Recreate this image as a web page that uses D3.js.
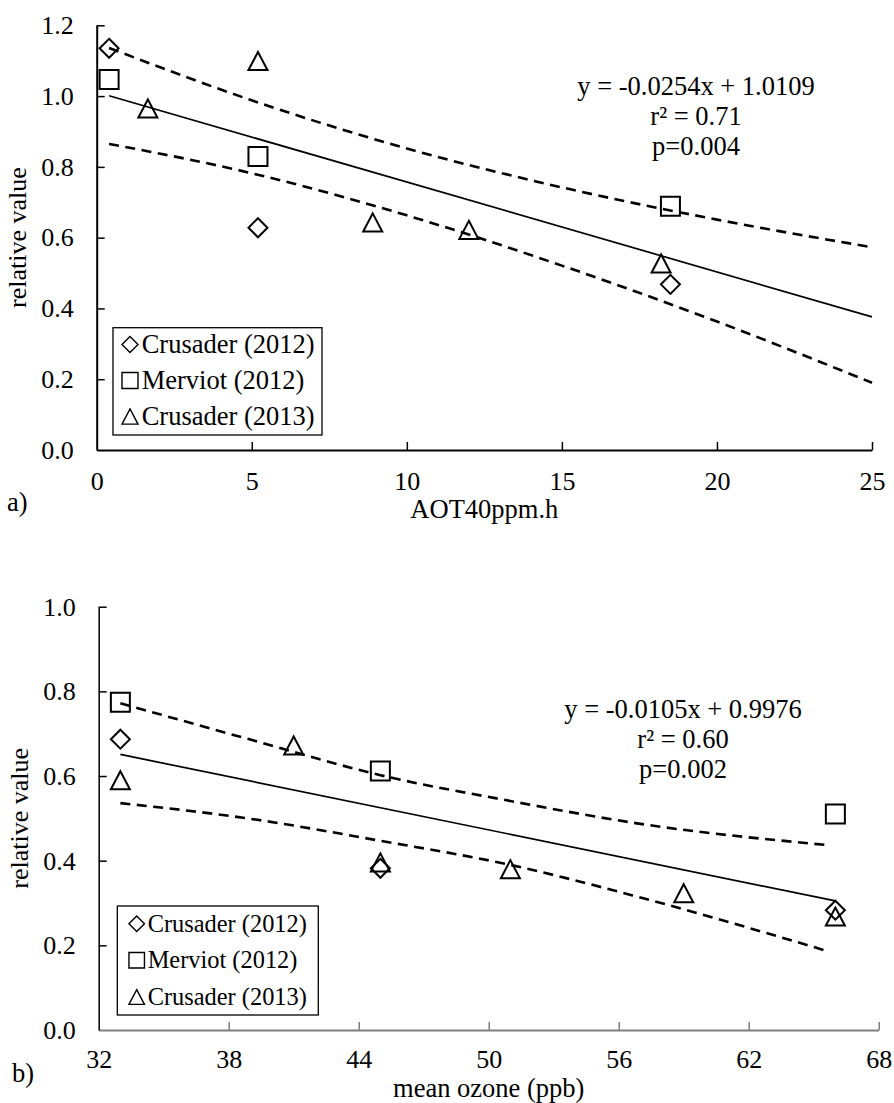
<!DOCTYPE html>
<html>
<head>
<meta charset="utf-8">
<script src="https://cdn.jsdelivr.net/npm/d3@7"></script>
<style>
  body { margin: 0; background: #fff; }
</style>
</head>
<body>
<div id="wrapper"></div>
<script>
// 1. Data

const seriesNames = ["Crusader (2012)", "Merviot (2012)", "Crusader (2013)"]

// panel a) AOT40
const aCrusader2012X = [0.4, 5.2, 18.5]
const aCrusader2012Y = [1.135, 0.628, 0.468]
const aMerviot2012X = [0.4, 5.2, 18.5]
const aMerviot2012Y = [1.047, 0.829, 0.689]
const aCrusader2013X = [1.65, 5.2, 8.9, 12.0, 18.2]
const aCrusader2013Y = [0.965, 1.099, 0.643, 0.622, 0.527]
const aFitX = [0.4, 25]
const aFitY = [1.001, 0.376]
const aBandX = [0.4, 5, 10, 15, 20, 25]
const aBandUpper = [1.136, 0.988, 0.852, 0.742, 0.651, 0.573]
const aBandLower = [0.865, 0.782, 0.663, 0.521, 0.363, 0.19]
const aXTicks = [0, 5, 10, 15, 20, 25]
const aYTicks = [0, 0.2, 0.4, 0.6, 0.8, 1.0, 1.2]
const aStats = ["y = -0.0254x + 1.0109", "r² = 0.71", "p=0.004"]

// panel b) mean ozone
const bCrusader2012X = [33, 45, 66]
const bCrusader2012Y = [0.687, 0.382, 0.283]
const bMerviot2012X = [33, 45, 66]
const bMerviot2012Y = [0.774, 0.612, 0.51]
const bCrusader2013X = [33, 41, 45, 51, 59, 66]
const bCrusader2013Y = [0.59, 0.672, 0.396, 0.38, 0.323, 0.268]
const bFitX = [33, 66]
const bFitY = [0.651, 0.305]
const bBandX = [33, 39, 45, 51, 57, 65.6]
const bBandUpper = [0.772, 0.686, 0.602, 0.541, 0.487, 0.437]
const bBandLower = [0.536, 0.499, 0.447, 0.39, 0.313, 0.187]
const bXTicks = [32, 38, 44, 50, 56, 62, 68]
const bYTicks = [0, 0.2, 0.4, 0.6, 0.8, 1.0]
const bStats = ["y = -0.0105x + 0.9976", "r² = 0.60", "p=0.002"]

// 2. Canvas

const width = 894
const height = 1103
const serif = '"Liberation Serif", "Times New Roman", Times, serif'

const svg = d3.select("#wrapper")
  .append("svg")
    .attr("width", width)
    .attr("height", height)
    .style("font-family", serif)

// marker shapes (open, Excel style)
const diamondType = {
  draw(ctx, size) {
    const r = Math.sqrt(size) / 2
    ctx.moveTo(0, -r); ctx.lineTo(r, 0); ctx.lineTo(0, r); ctx.lineTo(-r, 0); ctx.closePath()
  }
}
const squareType = {
  draw(ctx, size) {
    const r = Math.sqrt(size) / 2
    ctx.rect(-r, -r, 2 * r, 2 * r)
  }
}
const triangleType = {
  draw(ctx, size) {
    const r = Math.sqrt(size) / 2
    ctx.moveTo(0, -r * 0.95); ctx.lineTo(r, r * 0.95); ctx.lineTo(-r, r * 0.95); ctx.closePath()
  }
}
const markerTypes = [diamondType, squareType, triangleType]

function drawPanel(p) {
  const xScale = d3.scaleLinear().domain(p.xDomain).range(p.xRange)
  const yScale = d3.scaleLinear().domain(p.yDomain).range(p.yRange)
  const g = svg.append("g")

  // axes
  const xAxis = g.append("g")
      .attr("transform", `translate(0,${p.yRange[0]})`)
      .call(d3.axisBottom(xScale).tickValues(p.xTicks).tickSizeInner(-8).tickSizeOuter(0).tickFormat(d3.format("d")))
      .attr("font-family", null)
      .attr("font-size", null)
  xAxis.select(".domain").attr("stroke", p.xAxisColor).attr("stroke-width", p.xAxisWidth)
  xAxis.selectAll(".tick line").attr("stroke", p.xAxisColor).attr("stroke-width", 1.5)
  xAxis.selectAll(".tick").filter(d => d === p.xTicks[0]).select("line").remove()
  xAxis.selectAll("text")
      .attr("y", p.xTickBaseline)
      .attr("dy", null)
      .style("font-family", serif)
      .style("font-size", "26px")

  const yAxis = g.append("g")
      .attr("transform", `translate(${p.xRange[0]},0)`)
      .call(d3.axisLeft(yScale).tickValues(p.yTicks).tickSizeInner(-8).tickSizeOuter(0).tickPadding(23).tickFormat(d3.format(".1f")))
      .attr("font-family", null)
      .attr("font-size", null)
  yAxis.select(".domain").attr("stroke", "#000").attr("stroke-width", p.yAxisWidth)
  yAxis.selectAll(".tick line").attr("stroke", "#000").attr("stroke-width", 1.5)
  yAxis.selectAll(".tick").filter(d => d === 0).select("line").remove()
  yAxis.selectAll("text")
      .attr("dy", "0.32em")
      .style("font-family", serif)
      .style("font-size", "26px")

  // axis titles
  g.append("text")
      .attr("transform", `translate(${p.yLabelX},${(p.yRange[0] + p.yRange[1]) / 2}) rotate(-90)`)
      .attr("text-anchor", "middle")
      .style("font-family", serif)
      .style("font-size", "26px")
      .text("relative value")

  g.append("text")
      .attr("x", (p.xRange[0] + p.xRange[1]) / 2)
      .attr("y", p.xLabelY)
      .attr("text-anchor", "middle")
      .style("font-family", serif)
      .style("font-size", "26.5px")
      .text(p.xLabel)

  g.append("text")
      .attr("x", p.panelLabelX)
      .attr("y", p.panelLabelY)
      .style("font-family", serif)
      .style("font-size", "26.5px")
      .text(p.panelLabel)

  // confidence band + fit
  const line = d3.line()
      .x(d => xScale(d[0]))
      .y(d => yScale(d[1]))
      .curve(d3.curveMonotoneX)

  ;[p.bandUpper, p.bandLower].forEach(band => {
    g.append("path")
        .datum(p.bandX.map((x, i) => [x, band[i]]))
        .attr("d", line)
        .attr("fill", "none")
        .attr("stroke", "#000")
        .attr("stroke-width", 2.6)
        .attr("stroke-dasharray", "10,6.5")
  })

  g.append("path")
      .datum(p.fitX.map((x, i) => [x, p.fitY[i]]))
      .attr("d", line)
      .attr("fill", "none")
      .attr("stroke", "#000")
      .attr("stroke-width", 1.7)

  // points
  p.series.forEach((s, si) => {
    g.selectAll(null)
      .data(s.x.map((x, i) => [x, s.y[i]]))
      .enter()
      .append("path")
        .attr("transform", d => `translate(${xScale(d[0])},${yScale(d[1])})`)
        .attr("d", d3.symbol().type(markerTypes[si]).size(19 * 19))
        .attr("fill", "none")
        .attr("stroke", "#000")
        .attr("stroke-width", 2)
  })

  // stats text
  g.append("g")
    .selectAll("text")
    .data(p.stats)
    .enter()
    .append("text")
      .attr("x", p.statsX)
      .attr("y", (d, i) => p.statsY + i * 30)
      .attr("text-anchor", "middle")
      .style("font-family", serif)
      .style("font-size", "26.5px")
      .text(d => d)

  // legend
  const L = p.legend
  g.append("rect")
      .attr("x", L.x0)
      .attr("y", L.y0)
      .attr("width", L.x1 - L.x0)
      .attr("height", L.y1 - L.y0)
      .attr("fill", "#fff")
      .attr("stroke", "#000")
      .attr("stroke-width", 1.3)

  const rows = g.append("g")
    .selectAll("g")
    .data(seriesNames)
    .enter()
    .append("g")
      .attr("transform", (d, i) => `translate(0,${L.baselines[i]})`)

  rows.append("path")
      .attr("transform", `translate(${L.markerX},${-L.markerLift})`)
      .attr("d", (d, i) => d3.symbol().type(markerTypes[i]).size(L.markerSize * L.markerSize)())
      .attr("fill", "none")
      .attr("stroke", "#000")
      .attr("stroke-width", 1.4)

  rows.append("text")
      .attr("x", L.textX)
      .style("font-family", serif)
      .style("font-size", L.fontSize)
      .text(d => d)
}

drawPanel({
  xDomain: [0, 25], xRange: [96.7, 872],
  yDomain: [0, 1.2], yRange: [450, 25.3],
  xTicks: aXTicks, yTicks: aYTicks,
  xAxisColor: "#000", xAxisWidth: 2, yAxisWidth: 2,
  xTickBaseline: 39.5,
  yLabelX: 26, xLabelY: 518, xLabel: "AOT40ppm.h",
  panelLabel: "a)", panelLabelX: 7, panelLabelY: 511,
  bandX: aBandX, bandUpper: aBandUpper, bandLower: aBandLower,
  fitX: aFitX, fitY: aFitY,
  series: [
    { x: aCrusader2012X, y: aCrusader2012Y },
    { x: aMerviot2012X, y: aMerviot2012Y },
    { x: aCrusader2013X, y: aCrusader2013Y },
  ],
  stats: aStats, statsX: 696, statsY: 94.5,
  legend: { x0: 113, y0: 327.7, x1: 322, y1: 435, markerX: 130, textX: 141.7,
            baselines: [353, 389, 425], markerSize: 16, markerLift: 8.5, fontSize: "26.5px" },
})

drawPanel({
  xDomain: [32, 68], xRange: [98.7, 878.7],
  yDomain: [0, 1.0], yRange: [1030, 606.7],
  xTicks: bXTicks, yTicks: bYTicks,
  xAxisColor: "#7f7f7f", xAxisWidth: 2, yAxisWidth: 1.5,
  xTickBaseline: 38,
  yLabelX: 28, xLabelY: 1097, xLabel: "mean ozone (ppb)",
  panelLabel: "b)", panelLabelX: 12, panelLabelY: 1082,
  bandX: bBandX, bandUpper: bBandUpper, bandLower: bBandLower,
  fitX: bFitX, fitY: bFitY,
  series: [
    { x: bCrusader2012X, y: bCrusader2012Y },
    { x: bMerviot2012X, y: bMerviot2012Y },
    { x: bCrusader2013X, y: bCrusader2013Y },
  ],
  stats: bStats, statsX: 683, statsY: 718,
  legend: { x0: 117.3, y0: 906, x1: 318.3, y1: 1015, markerX: 136.7, textX: 147.7,
            baselines: [931.7, 968.3, 1005], markerSize: 15.5, markerLift: 8, fontSize: "24.4px" },
})
</script>
</body>
</html>
